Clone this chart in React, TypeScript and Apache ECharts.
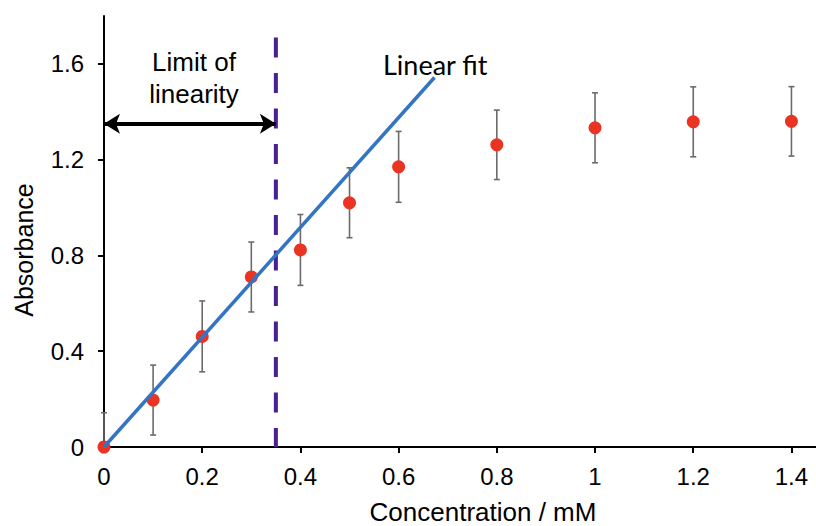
import React, { useEffect, useRef } from "react";
import * as echarts from "echarts";

// ---- data ----
const concentrations = [0, 0.1, 0.2, 0.3, 0.4, 0.5, 0.6, 0.8, 1.0, 1.2, 1.4];
const absorbance = [0.0, 0.196, 0.462, 0.71, 0.823, 1.02, 1.17, 1.262, 1.333, 1.358, 1.36];
const errors = [0.143, 0.146, 0.148, 0.146, 0.148, 0.146, 0.148, 0.145, 0.146, 0.146, 0.145];
const fitStart = [0, 0];
const fitEnd = [0.673, 1.543];
const limitX = 0.35;
const limitTop = 1.71;
const arrowY = 1.35;
const xTicks = [0, 0.2, 0.4, 0.6, 0.8, 1, 1.2, 1.4];
const yTicks = [0, 0.4, 0.8, 1.2, 1.6];
const xTitle = "Concentration / mM";
const yTitle = "Absorbance";
const limitLabel = "Limit of\nlinearity";
const fitLabel = "Linear fit";

const FONT = "'Liberation Sans', Arial, Helvetica, sans-serif";

export default function App() {
  const ref = useRef<HTMLDivElement>(null);

  useEffect(() => {
    if (!ref.current) return;
    const chart = echarts.init(ref.current, null, { renderer: "svg" });

    const points = concentrations.map((c, i) => [c, absorbance[i]]);
    const errData = concentrations.map((c, i) => [c, absorbance[i], errors[i]]);

    const option: any = {
      animation: false,
      backgroundColor: "#ffffff",
      grid: { left: 104, top: 16, width: 713.5, height: 431, containLabel: false },
      xAxis: {
        type: "value",
        min: 0,
        max: 1.45,
        axisLine: { show: true, onZero: false, lineStyle: { color: "#000", width: 2 } },
        axisTick: { show: true, length: 6, customValues: xTicks, lineStyle: { color: "#000", width: 2 } },
        axisLabel: {
          customValues: xTicks,
          fontSize: 24,
          color: "#000",
          fontFamily: FONT,
          margin: 17,
        },
        splitLine: { show: false },
      },
      yAxis: {
        type: "value",
        min: 0,
        max: 1.8,
        axisLine: { show: true, onZero: false, lineStyle: { color: "#000", width: 2 } },
        axisTick: { show: true, length: 6, customValues: yTicks, lineStyle: { color: "#000", width: 2 } },
        axisLabel: {
          customValues: yTicks,
          fontSize: 24,
          color: "#000",
          fontFamily: FONT,
          margin: 20,
        },
        splitLine: { show: false },
      },
      graphic: [
        {
          type: "text",
          x: 194,
          y: 78,
          style: {
            text: limitLabel,
            fontSize: 26,
            lineHeight: 32,
            fontFamily: FONT,
            fill: "#000",
            align: "center",
            verticalAlign: "middle",
          },
          z: 100,
        },
        {
          type: "text",
          x: 383,
          y: 64,
          style: {
            text: fitLabel,
            fontSize: 27,
            fontFamily: "Lato, 'Open Sans', sans-serif",
            fill: "#000",
            align: "left",
            verticalAlign: "middle",
          },
          z: 100,
        },
        {
          type: "text",
          x: 483,
          y: 512,
          style: {
            text: xTitle,
            fontSize: 26,
            fontFamily: FONT,
            fill: "#000",
            align: "center",
            verticalAlign: "middle",
          },
          z: 100,
        },
        {
          type: "text",
          x: 24,
          y: 250,
          rotation: Math.PI / 2,
          style: {
            text: yTitle,
            fontSize: 25,
            fontFamily: FONT,
            fill: "#000",
            align: "center",
            verticalAlign: "middle",
          },
          z: 100,
        },
      ],
      series: [
        {
          type: "custom",
          name: "error",
          z: 2,
          data: errData,
          renderItem: (params: any, api: any) => {
            const x = api.value(0);
            const y = api.value(1);
            const e = api.value(2);
            const top = api.coord([x, y + e]);
            const bot = api.coord([x, y - e]);
            const cs = params.coordSys;
            const limit = cs.y + cs.height;
            const bottomY = Math.min(bot[1], limit);
            const hw = 3;
            const st = { stroke: "#6b6b6b", lineWidth: 1.6 };
            const children: any[] = [
              { type: "line", shape: { x1: top[0], y1: top[1], x2: top[0], y2: bottomY }, style: st },
              { type: "line", shape: { x1: top[0] - hw, y1: top[1], x2: top[0] + hw, y2: top[1] }, style: st },
            ];
            if (bot[1] <= limit) {
              children.push({
                type: "line",
                shape: { x1: bot[0] - hw, y1: bot[1], x2: bot[0] + hw, y2: bot[1] },
                style: st,
              });
            }
            return { type: "group", children };
          },
        },
        {
          type: "scatter",
          name: "data",
          z: 3,
          clip: false,
          data: points,
          symbol: "circle",
          symbolSize: 13,
          itemStyle: { color: "#ea3323", opacity: 1 },
        },
        {
          type: "line",
          name: "fit",
          z: 5,
          data: [fitStart, fitEnd],
          symbol: "none",
          lineStyle: { color: "#3474c4", width: 3.5 },
        },
        {
          type: "line",
          name: "limit",
          z: 4,
          data: [
            [limitX, limitTop],
            [limitX, 0],
          ],
          symbol: "none",
          lineStyle: { color: "#4a1f91", width: 4, type: [20, 15.5] },
          markLine: {
            silent: true,
            symbol: ["arrow", "arrow"],
            symbolSize: [15, 16],
            label: { show: false },
            lineStyle: { color: "#000", width: 4, type: "solid" },
            data: [[{ coord: [0, arrowY] }, { coord: [limitX, arrowY] }]],
          },
        },
      ],
    };

    chart.setOption(option);
    return () => chart.dispose();
  }, []);

  return (
    <div
      ref={ref}
      style={{ position: "fixed", left: 0, top: 0, width: 816, height: 526, background: "#fff" }}
    />
  );
}
